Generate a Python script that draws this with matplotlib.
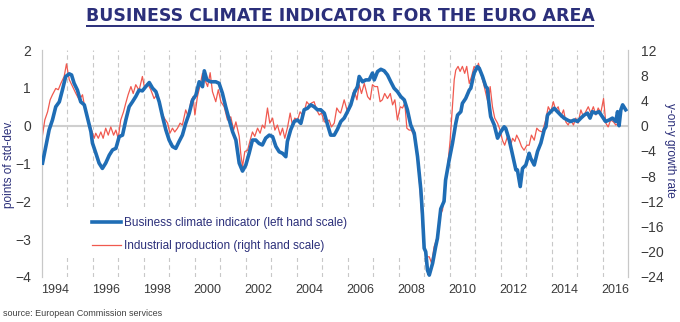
import matplotlib
matplotlib.use('Agg')
import matplotlib.pyplot as plt
from matplotlib.patches import Rectangle

# business climate indicator (left scale, points of std-dev.)
bci_year = [1994.02, 1994.15, 1994.28, 1994.41, 1994.54, 1994.68, 1994.80, 1994.93, 1995.07, 1995.16,
            1995.26, 1995.39, 1995.52, 1995.66, 1995.79, 1995.92, 1995.98, 1996.11, 1996.24, 1996.37,
            1996.50, 1996.64, 1996.77, 1996.90, 1997.03, 1997.16, 1997.29, 1997.42, 1997.55, 1997.68,
            1997.81, 1997.94, 1998.07, 1998.21, 1998.34, 1998.47, 1998.60, 1998.73, 1998.86, 1998.99,
            1999.12, 1999.25, 1999.38, 1999.51, 1999.64, 1999.78, 1999.91, 2000.04, 2000.17, 2000.30,
            2000.37, 2000.47, 2000.62, 2000.82, 2000.95, 2001.08, 2001.21, 2001.35, 2001.48, 2001.61,
            2001.74, 2001.87, 2002.00, 2002.13, 2002.26, 2002.39, 2002.52, 2002.65, 2002.78, 2002.92,
            2003.05, 2003.18, 2003.31, 2003.44, 2003.57, 2003.63, 2003.76, 2003.90, 2004.03, 2004.16,
            2004.29, 2004.42, 2004.55, 2004.68, 2004.81, 2004.94, 2005.08, 2005.21, 2005.33, 2005.47,
            2005.60, 2005.73, 2005.86, 2005.99, 2006.12, 2006.25, 2006.38, 2006.45, 2006.58, 2006.71,
            2006.84, 2006.97, 2007.04, 2007.17, 2007.30, 2007.43, 2007.56, 2007.69, 2007.82, 2007.95,
            2008.08, 2008.22, 2008.34, 2008.47, 2008.61, 2008.74, 2008.87, 2008.93, 2009.00, 2009.06,
            2009.13, 2009.20, 2009.33, 2009.45, 2009.52, 2009.65, 2009.78, 2009.84, 2009.98, 2010.11,
            2010.24, 2010.31, 2010.44, 2010.50, 2010.63, 2010.77, 2010.83, 2010.96, 2011.09, 2011.16,
            2011.29, 2011.42, 2011.48, 2011.55, 2011.61, 2011.75, 2011.88, 2012.01, 2012.14, 2012.20,
            2012.34, 2012.47, 2012.60, 2012.66, 2012.77, 2012.86, 2012.99, 2013.12, 2013.18, 2013.32,
            2013.45, 2013.58, 2013.71, 2013.78, 2013.84, 2013.97, 2014.10, 2014.23, 2014.36, 2014.49,
            2014.62, 2014.75, 2014.89, 2015.02, 2015.15, 2015.28, 2015.41, 2015.51, 2015.60, 2015.73,
            2015.86, 2015.99, 2016.12, 2016.26, 2016.39, 2016.52, 2016.59, 2016.65, 2016.72, 2016.79,
            2016.91]
bci = [-0.99, -0.55, -0.11, 0.15, 0.50, 0.63, 0.94, 1.30, 1.37, 1.34,
       1.12, 0.94, 0.63, 0.55, 0.20, -0.16, -0.46, -0.72, -0.99, -1.13,
       -0.99, -0.78, -0.64, -0.60, -0.29, -0.25, 0.15, 0.50, 0.63, 0.77,
       0.94, 0.92, 1.03, 1.14, 0.99, 0.90, 0.63, 0.24, -0.11, -0.38,
       -0.55, -0.60, -0.42, -0.25, 0.06, 0.33, 0.68, 0.81, 1.16, 1.03,
       1.45, 1.21, 1.16, 1.16, 1.12, 0.86, 0.50, 0.15, -0.16, -0.38,
       -0.99, -1.20, -1.04, -0.73, -0.38, -0.38, -0.47, -0.51, -0.33, -0.25,
       -0.29, -0.55, -0.69, -0.73, -0.82, -0.42, -0.11, 0.11, 0.15, 0.06,
       0.42, 0.46, 0.55, 0.50, 0.42, 0.42, 0.33, 0.02, -0.25, -0.25,
       -0.09, 0.11, 0.20, 0.37, 0.55, 0.86, 1.03, 1.30, 1.16, 1.21,
       1.21, 1.39, 1.21, 1.43, 1.49, 1.45, 1.34, 1.16, 0.99, 0.90,
       0.77, 0.68, 0.42, 0.02, -0.20, -0.82, -1.70, -2.32, -3.24, -3.33,
       -3.82, -3.95, -3.64, -3.20, -2.98, -2.20, -2.00, -1.44, -0.91, -0.47,
       0.06, 0.28, 0.37, 0.59, 0.72, 0.94, 0.99, 1.39, 1.56, 1.52,
       1.30, 1.03, 0.99, 0.55, 0.24, 0.02, -0.33, -0.16, -0.03, -0.07,
       -0.38, -0.78, -1.17, -1.17, -1.61, -1.13, -1.04, -0.73, -0.86, -1.04,
       -0.68, -0.46, -0.11, -0.03, 0.28, 0.37, 0.46, 0.37, 0.28, 0.20,
       0.15, 0.11, 0.15, 0.11, 0.20, 0.28, 0.33, 0.20, 0.37, 0.33,
       0.37, 0.24, 0.11, 0.15, 0.20, 0.11, 0.37, 0.00, 0.42, 0.55,
       0.42]

# industrial production, y-on-y growth rate (right scale)
ip_year = [1994.02, 1994.11, 1994.22, 1994.32, 1994.41, 1994.54, 1994.64, 1994.74, 1994.87, 1994.96,
           1995.07, 1995.20, 1995.33, 1995.46, 1995.59, 1995.66, 1995.79, 1995.92, 1996.05, 1996.11,
           1996.21, 1996.31, 1996.40, 1996.50, 1996.60, 1996.70, 1996.81, 1996.90, 1996.99, 1997.09,
           1997.20, 1997.29, 1997.38, 1997.49, 1997.58, 1997.68, 1997.81, 1997.94, 1998.03, 1998.14,
           1998.27, 1998.40, 1998.53, 1998.66, 1998.80, 1998.93, 1999.02, 1999.12, 1999.21, 1999.32,
           1999.42, 1999.51, 1999.64, 1999.74, 1999.84, 1999.93, 2000.00, 2000.10, 2000.21, 2000.30,
           2000.39, 2000.50, 2000.60, 2000.69, 2000.82, 2000.92, 2001.02, 2001.15, 2001.28, 2001.41,
           2001.52, 2001.61, 2001.74, 2001.80, 2001.87, 2001.96, 2002.07, 2002.17, 2002.26, 2002.35,
           2002.46, 2002.56, 2002.65, 2002.74, 2002.85, 2002.94, 2003.05, 2003.14, 2003.24, 2003.35,
           2003.44, 2003.53, 2003.64, 2003.74, 2003.83, 2003.92, 2004.03, 2004.13, 2004.22, 2004.31,
           2004.39, 2004.49, 2004.58, 2004.68, 2004.78, 2004.88, 2004.97, 2005.08, 2005.18, 2005.27,
           2005.36, 2005.47, 2005.57, 2005.66, 2005.72, 2005.79, 2005.86, 2005.99, 2006.12, 2006.25,
           2006.36, 2006.45, 2006.54, 2006.65, 2006.78, 2006.88, 2006.97, 2007.06, 2007.17, 2007.27,
           2007.36, 2007.45, 2007.56, 2007.67, 2007.76, 2007.85, 2007.95, 2008.06, 2008.15, 2008.24,
           2008.32, 2008.41, 2008.50, 2008.61, 2008.74, 2008.84, 2008.93, 2009.00, 2009.10, 2009.20,
           2009.29, 2009.39, 2009.52, 2009.65, 2009.72, 2009.79, 2009.92, 2010.02, 2010.11, 2010.18,
           2010.24, 2010.33, 2010.41, 2010.50, 2010.59, 2010.67, 2010.77, 2010.86, 2010.96, 2011.06,
           2011.13, 2011.22, 2011.33, 2011.42, 2011.51, 2011.59, 2011.68, 2011.77, 2011.88, 2011.98,
           2012.07, 2012.16, 2012.27, 2012.38, 2012.47, 2012.56, 2012.63, 2012.73, 2012.82, 2012.92,
           2013.03, 2013.12, 2013.21, 2013.32, 2013.42, 2013.51, 2013.64, 2013.77, 2013.87, 2013.97,
           2014.07, 2014.16, 2014.26, 2014.36, 2014.47, 2014.56, 2014.65, 2014.75, 2014.86, 2014.95,
           2015.04, 2015.15, 2015.25, 2015.34, 2015.44, 2015.54, 2015.64, 2015.74, 2015.83, 2015.93,
           2016.04, 2016.13, 2016.22, 2016.32, 2016.43, 2016.52, 2016.61]
ip = [-1.5, 0.9, 2.2, 4.1, 4.9, 5.9, 5.7, 6.7, 7.8, 9.8,
      7.3, 6.2, 5.1, 4.1, 4.9, 3.3, 0.9, -0.4, -2.0, -1.2,
      -2.0, -1.0, -2.0, -0.4, -1.5, -0.2, -1.5, -0.7, -2.0, 0.9,
      2.2, 3.6, 4.9, 6.2, 5.1, 6.5, 5.6, 7.8, 5.9, 6.7,
      5.7, 4.3, 5.1, 2.5, 1.2, 0.4, -1.2, -0.4, -1.0, -0.4,
      0.4, 0.1, 2.5, 1.4, 3.8, 4.6, 1.7, 4.6, 6.5, 8.3,
      7.3, 6.2, 8.4, 5.4, 3.8, 5.7, 3.8, 3.0, 0.9, 1.4,
      -0.7, 0.6, -1.7, -4.4, -6.5, -4.1, -3.9, -2.3, -1.0, -1.7,
      -0.4, -1.2, 0.1, -0.4, 2.8, 0.4, 1.2, -0.7, 0.1, -1.5,
      -0.4, -2.0, -0.2, 2.0, 0.1, 1.2, 0.9, 2.2, 1.7, 2.5,
      3.8, 3.3, 3.6, 3.8, 2.5, 1.7, 2.0, 0.6, 0.6, 0.9,
      -0.2, 0.4, 2.8, 2.2, 2.0, 3.0, 4.1, 2.2, 3.6, 5.7,
      4.1, 6.5, 5.1, 6.7, 4.6, 4.1, 6.5, 6.2, 6.2, 3.8,
      4.1, 5.1, 4.3, 5.1, 3.3, 4.1, 0.9, 3.0, 2.8, 3.6,
      -0.4, -0.7, -0.7, -1.7, -5.4, -10.2, -16.0, -19.2, -20.8, -20.8,
      -21.8, -19.2, -17.6, -14.0, -13.4, -10.7, -6.5, -2.3, 3.0, 7.3,
      8.8, 9.4, 8.6, 9.4, 8.3, 9.4, 6.7, 7.8, 9.4, 8.8,
      9.9, 8.3, 6.7, 5.1, 3.6, 6.2, 3.0, 1.2, 0.4, -0.7,
      -2.3, -3.1, -1.7, -3.3, -2.0, -2.5, -1.5, -2.3, -3.3, -3.9,
      -3.1, -3.1, -1.5, -2.3, -0.4, -0.8, -1.0, 0.9, 3.0, 2.2,
      3.8, 2.5, 3.0, 1.4, 2.5, 0.6, 0.1, 0.9, 0.1, 1.2,
      0.4, 2.5, 1.4, 2.2, 3.0, 2.0, 3.0, 1.7, 2.8, 2.0,
      4.3, 0.4, -0.2, 0.9, 0.6, 0.1, 0.4]

year_labels = ['1994', '1996', '1998', '2000', '2002', '2004', '2006', '2008', '2010', '2012', '2014', '2016']

navy = '#2b2f7a'
txt = '#3a3a3a'
plt.rcParams['font.family'] = ['Liberation Sans', 'DejaVu Sans']

fig = plt.figure(figsize=(6.8, 3.22), dpi=100)

# full-figure overlay in pixel units for the title underline
over = fig.add_axes([0, 0, 1, 1], zorder=5)
over.set_xlim(0, 680)
over.set_ylim(322, 0)
over.axis('off')
over.patch.set_visible(False)

ax = fig.add_axes([42 / 680, 1 - 277 / 322, 586 / 680, 227 / 322])
ax2 = ax.twinx()
ax.set_zorder(2)
ax2.set_zorder(1)
ax.patch.set_visible(False)

ax.set_xlim(1994, 2017)
ax.set_ylim(-4, 2)
ax2.set_ylim(-24, 12)

# year gridlines, zero line and the blank area behind the legend
for yr in range(1995, 2017):
    ax2.axvline(yr, color='#c8c8c8', lw=0.8, ls=(0, (4, 3)), zorder=0)
ax2.axhline(0, color='#cfcfcf', lw=1.5, zorder=0.5)
ax2.add_patch(Rectangle((0.005, 0.084), 0.67, 0.225, transform=ax2.transAxes,
                        facecolor='white', edgecolor='none', zorder=0.8))

l2, = ax2.plot(ip_year, ip, color='#f0594f', lw=0.9, zorder=2,
               label='Industrial production (right hand scale)')
l1, = ax.plot(bci_year, bci, color='#1f6db5', lw=2.6, zorder=3,
              label='Business climate indicator (left hand scale)')

ax.set_yticks(range(-4, 3))
ax2.set_yticks(range(-24, 13, 4))
ax.set_xticks([int(y) + 0.5 for y in year_labels])
ax.set_xticklabels(year_labels)
ax.tick_params(axis='x', length=0, pad=5, labelsize=9, labelcolor=txt)
ax.tick_params(axis='y', length=0, pad=8, labelsize=10, labelcolor=txt)
ax2.tick_params(axis='y', length=0, pad=9, labelsize=10, labelcolor=txt)

for a in (ax, ax2):
    a.spines['top'].set_visible(False)
    a.spines['bottom'].set_visible(False)
    a.spines['left'].set_color('#c8c8c8')
    a.spines['right'].set_color('#c8c8c8')

fig.text(9 / 680, 1 - 164 / 322, 'points of std-dev.', rotation=90, ha='center', va='center',
         fontsize=8.5, color=navy)
fig.text(670 / 680, 1 - 150 / 322, 'y-on-y growth rate', rotation=270, ha='center', va='center',
         fontsize=8.5, color=navy)

leg = ax.legend(handles=[l1, l2], loc='center left', bbox_to_anchor=(0.085, 0.187),
                frameon=False, fontsize=8.5, handlelength=2.5, handletextpad=0.2,
                labelspacing=0.95, borderpad=0, borderaxespad=0)
for t in leg.get_texts():
    t.set_color(navy)

title = fig.text(0.5, 1 - 16 / 322, 'BUSINESS CLIMATE INDICATOR FOR THE EURO AREA', ha='center',
                 va='center', fontsize=12.5, fontweight='bold', color=navy, family='DejaVu Sans')
fig.text(3 / 680, 1 - 313 / 322, 'source: European Commission services', ha='left', va='center',
         fontsize=6.5, color='#404040')

# underline the title, using its measured width
fig.canvas.draw()
bb = title.get_window_extent(renderer=fig.canvas.get_renderer())
over.plot([bb.x0, bb.x1], [25.5, 25.5], color=navy, lw=1.4, solid_capstyle='butt')

fig.savefig('out.png', dpi=100, facecolor='white')
